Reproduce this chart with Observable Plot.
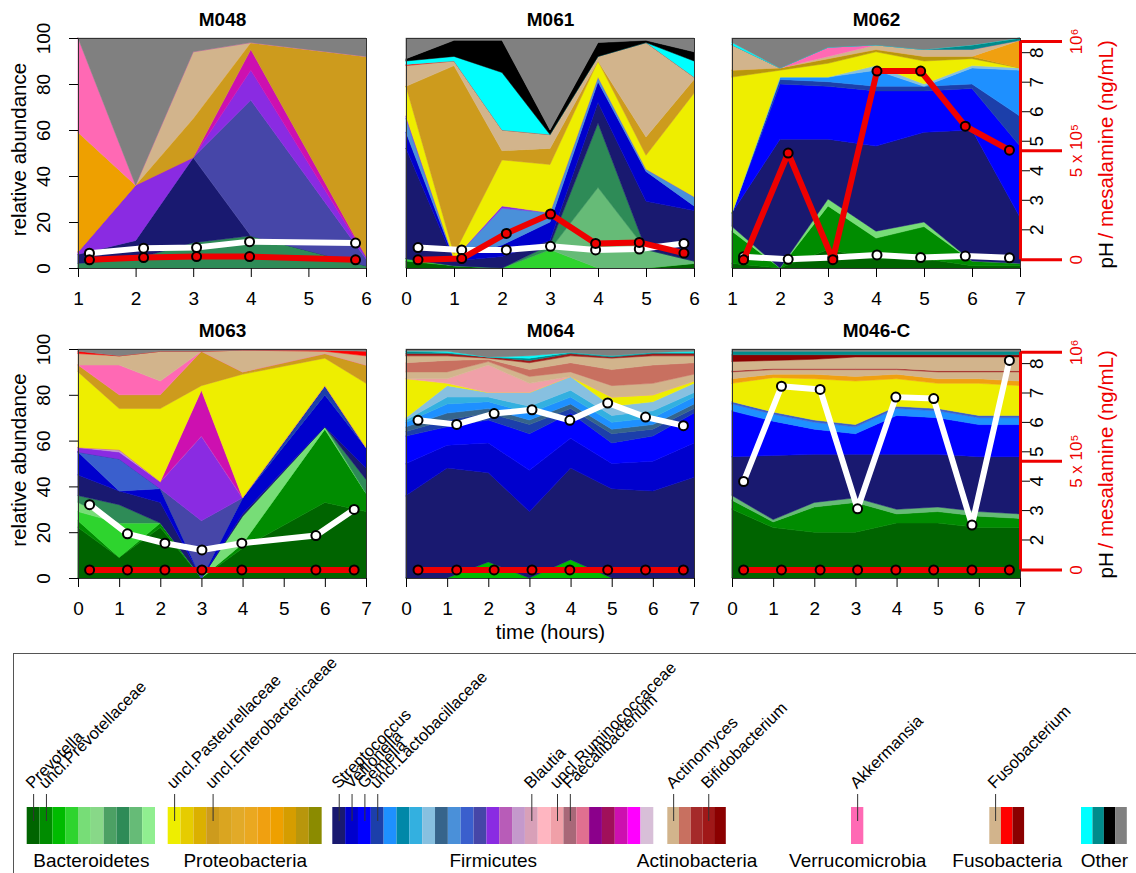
<!DOCTYPE html>
<html><head><meta charset="utf-8">
<script src="https://cdn.jsdelivr.net/npm/d3@7"></script>
<script src="https://cdn.jsdelivr.net/npm/@observablehq/plot@0.6"></script>
<style>
html,body{margin:0;padding:0;background:#fff;overflow:hidden;}
#root{position:relative;width:1136px;height:873px;overflow:hidden;font-family:"Liberation Sans",Arial,sans-serif;}
.panel{position:absolute;}
.panel svg{background:transparent !important;overflow:visible;max-width:none !important;}
#legendBox{position:absolute;left:13px;top:653px;width:1200px;height:300px;border:1px solid #555;box-sizing:border-box;}
</style></head><body><div id="root"><div id="legendBox"></div></div>
<script>
// ---------- taxa / colours (legend order) ----------
const groupNames = ["Bacteroidetes","Proteobacteria","Firmicutes","Actinobacteria","Verrucomicrobia","Fusobacteria","Other"];
const groupPrefixes = ["B","P","F","A","V","U","O"];
const bacteroidetesColors = ["#006400","#008c00","#00bb00","#2ed42e","#77dd77","#88d888","#4ca064","#2e8b57","#66bb77","#90ee90"];
const proteobacteriaColors = ["#eeee00","#e6cc00","#dbb000","#cd9b1d","#daa520","#e2aa28","#eaa820","#f0a010","#eea000","#d59d00","#b8960c","#8b8b00"];
const firmicutesColors = ["#191970","#0000cd","#0000ff","#1c3faa","#1e90ff","#0088a8","#33b0e0","#87c0e0","#36648b","#4a90d9","#3a5fcd","#4646a8","#8a2be2","#b85cb8","#c499cc","#d8a0b8","#ffb6c1","#f0a0a8","#a86878","#e07090","#8b008b","#a0105a","#cd10b0","#ff00ff","#d8bfd8"];
const actinobacteriaColors = ["#d2b48c","#c87060","#a52a2a","#a01818","#8b0000"];
const verrucomicrobiaColors = ["#ff69b4"];
const fusobacteriaColors = ["#d2b48c","#ff0000","#8b0000"];
const otherColors = ["#00ffff","#008b8b","#000000","#808080"];
const groupColors = [bacteroidetesColors, proteobacteriaColors, firmicutesColors, actinobacteriaColors, verrucomicrobiaColors, fusobacteriaColors, otherColors];

const genusNames = ["Prevotella","uncl.Prevotellaceae","uncl.Pasteurellaceae","uncl.Enterobactericaeae","Streptococcus","Veillonella","Gemella","uncl.Lactobacillaceae","Blautia","uncl.Ruminococcaceae","Faecalibacterium","Actinomyces","Bifidobacterium","Akkermansia","Fusobacterium"];
const genusTaxa = ["B1","B2","P1","P4","F1","F2","F3","F4","F16","F18","F19","A1","A4","V1","U1"];

// ---------- axis ticks ----------
const abundanceTicks = [0,20,40,60,80,100];
const phTicks = [2,3,4,5,6,7,8];
const mesTicks = [0, 500000, 1000000];
const mesTickLabels = ["0", "5 x 10\u2075", "10\u2076"];

// ---------- M048 ----------
const m048Positions = [1,2,3,4,6];
const m048Times = [1.19, 2.13, 3.05, 3.97, 5.81];
const m048PH = [1.21, 1.38, 1.40, 1.60, 1.55];
const m048Mesalamine = [0, 10600, 15300, 15300, 0];
const m048Taxa = ["B8","F1","F12","F13","F23","P4","P9","A1","V1","O4"];
const m048Abundance = [
  [2, 4, 11, 14, 1],
  [4, 8, 37, 0, 0],
  [0, 0, 0, 59, 3],
  [1, 24, 0, 13, 1],
  [0, 0, 0, 9, 0],
  [0, 0, 17, 3, 87],
  [52, 0, 0, 0, 0],
  [0, 0, 29, 0, 0],
  [41, 0, 0, 0, 0],
  [0, 64, 6, 2, 8]
];

// ---------- M061 ----------
const m061Positions = [0,1,2,3,4,5,6];
const m061Times = [0.24, 1.15, 2.08, 3.0, 3.94, 4.85, 5.78];
const m061PH = [1.40, 1.32, 1.32, 1.44, 1.32, 1.35, 1.54];
const m061Mesalamine = [0, 6000, 121000, 210000, 75000, 80000, 31000];
const m061Taxa = ["B1","B4","B9","B8","F1","F2","F10","F13","P1","P4","A1","U2","O1","O3","O4"];
const m061Abundance = [
  [3, 1, 0, 0, 0, 0, 2],
  [1, 0, 0, 8, 0, 0, 0],
  [0, 0, 0, 0, 35, 8, 1],
  [0, 0, 0, 2, 28, 0, 0],
  [48, 2, 5, 2, 9, 21, 22],
  [7, 1, 5, 8, 9, 13, 2],
  [6, 0, 16, 4, 2, 1, 4],
  [1, 0, 1, 0, 0, 0, 0],
  [13, 2, 20, 21, 7, 6, 45],
  [0, 82, 4, 7, 0, 8, 6],
  [9, 2, 9, 6, 2, 41, 1],
  [0.5, 0, 0, 0, 0, 0, 0],
  [1.5, 2, 25, 0, 0, 0, 7],
  [1, 7, 14, 2, 6, 1, 4],
  [9, 1, 1, 40, 2, 1, 6]
];

// ---------- M062 ----------
const m062Positions = [1,2,3,4,5,6,7];
const m062Times = [1.23, 2.16, 3.09, 4.01, 4.92, 5.85, 6.77];
const m062PH = [1.09, 1.0, 1.06, 1.15, 1.06, 1.11, 1.05];
const m062Mesalamine = [0, 489000, 1000, 864000, 864000, 612000, 502000];
const m062Taxa = ["B1","B2","B5","F1","F3","F4","F5","F8","P1","P11","P8","A1","V1","O2","O1","O4"];
const m062Abundance = [
  [2, 0, 8, 4, 4, 1, 1],
  [14, 0, 19, 9, 14, 2, 1],
  [2, 0, 3, 3, 2, 0, 0],
  [6, 56, 26, 37, 39, 57, 20],
  [0, 24, 23, 24, 18, 18, 31],
  [0, 2, 2, 2, 2, 2, 13],
  [0, 1, 2, 7, 0, 7, 20],
  [0, 0, 0, 2, 1, 1, 1],
  [59, 3, 6, 6, 10, 3, 0],
  [3, 1, 2, 1, 2, 1, 0],
  [0, 0, 0, 0, 0, 0, 12],
  [11, 0, 1, 2, 3, 3, 0],
  [0, 0, 4, 0, 0, 0, 0],
  [0, 0, 0, 0, 0, 2, 1],
  [1, 0, 0, 0, 0, 0, 0],
  [2, 13, 4, 3, 5, 3, 0]
];

// ---------- M063 ----------
const m063Positions = [0,1,2,3,4,6,7];
const m063Times = [0.27, 1.19, 2.1, 3.0, 3.97, 5.77, 6.70];
const m063PH = [3.20, 2.21, 1.89, 1.66, 1.89, 2.15, 3.04];
const m063Mesalamine = [0, 0, 0, 0, 0, 0, 0];
const m063Taxa = ["B1","B2","B4","B5","B8","F1","F2","F11","F4","F12","F13","F15","F23","P1","P4","V1","U1","U2","O4"];
const m063Abundance = [
  [22, 9, 22, 0, 13, 33, 29],
  [3, 0, 2, 0, 2, 32, 8],
  [4, 15, 0, 0, 0, 0, 0],
  [4, 0, 0, 0, 12, 1, 0],
  [3, 8, 0, 0, 0, 0, 6],
  [9, 6, 9, 0, 1, 0, 5],
  [10, 0, 6, 0, 7, 14, 9],
  [0, 14, 0, 0, 0, 0, 0],
  [0, 0, 0, 0, 0, 4, 0],
  [0, 0, 0, 25, 0, 0, 0],
  [2, 3, 3, 37, 0, 0, 0],
  [0, 1, 0, 0, 0, 0, 0],
  [0, 0, 0, 20, 0, 0, 0],
  [33, 18, 32, 2, 54, 12, 28],
  [3, 6, 6, 15, 1, 2, 8],
  [0, 13, 6, 0, 0, 0, 0],
  [5, 4, 13, 0, 9.5, 1, 4],
  [1, 0, 0, 0, 0, 0.5, 2],
  [1, 3, 1, 1, 0.5, 0.5, 1]
];

// ---------- M064 ----------
const m064Positions = [0,1,2,3,4,5,6,7];
const m064Times = [0.28, 1.22, 2.13, 3.05, 3.97, 4.89, 5.81, 6.73];
const m064PH = [6.07, 5.93, 6.30, 6.43, 6.07, 6.66, 6.18, 5.89];
const m064Mesalamine = [0, 0, 0, 0, 0, 0, 0, 0];
const m064Taxa = ["B3","F1","F2","F3","F4","F9","F5","F7","F8","P1","F18","A1","A2","U1","A4","O2","O1","O4"];
const m064Abundance = [
  [0, 0, 7, 0, 8, 0, 0, 0],
  [36, 48, 39, 29, 40, 39, 38, 44],
  [14, 10, 13, 18, 13, 11, 13, 15],
  [12, 8, 10, 16, 11, 9, 11, 13],
  [2, 3, 3, 4, 2, 4, 3, 2],
  [2, 3, 2, 2, 2, 2, 2, 2],
  [2, 4, 3, 3, 3, 3, 3, 3],
  [1, 3, 2, 3, 3, 3, 3, 2],
  [1, 5, 2, 6, 6, 4, 4, 4],
  [17, 1, 0, 0, 0, 4, 3, 1],
  [0, 2, 12, 4, 0, 0, 0, 0],
  [3, 3, 1.5, 3, 2, 5, 5, 3],
  [4, 5, 1, 3, 4, 7, 8, 5],
  [3, 2, 0.5, 3, 3, 5, 4, 3],
  [1, 1, 0.5, 1, 1, 0.5, 1, 1],
  [1, 0.5, 0, 1, 0.5, 0.5, 0.5, 0.5],
  [0, 0.5, 0, 1, 0, 0, 0, 0.5],
  [1, 1, 3.5, 3, 1.5, 3, 1.5, 1]
];

// ---------- M046-C ----------
const m046Positions = [0,1,2,3,4,5,6,7];
const m046Times = [0.27, 1.19, 2.13, 3.04, 3.97, 4.89, 5.82, 6.73];
const m046PH = [3.99, 7.23, 7.12, 3.06, 6.86, 6.81, 2.51, 8.11];
const m046Mesalamine = [0, 0, 0, 0, 0, 0, 0, 0];
const m046Taxa = ["B1","B2","B9","F1","F3","F5","F11","P1","P8","A1","A3","U1","U3","O2","O4"];
const m046Abundance = [
  [30, 22, 20, 20, 24, 24, 22, 22],
  [4, 2.5, 11, 13, 4, 5, 5, 4],
  [2, 1, 2, 2, 2, 2, 2, 2],
  [17, 28, 21, 19, 24, 23, 24, 25],
  [20, 15, 11, 9, 17, 16, 14, 14],
  [3, 3, 3, 3, 3, 3, 3, 3],
  [1, 1, 1, 1, 1, 1, 1, 1],
  [8, 15, 18, 19, 12, 11, 14, 13],
  [2, 1.5, 2, 2, 2, 2, 2, 2],
  [3, 2, 2, 3, 2, 3, 3, 4],
  [0.5, 0.5, 0.5, 0.5, 0.5, 0.5, 0.5, 0.5],
  [4, 3.5, 4, 5, 5, 6, 6, 6],
  [3, 2.5, 2, 1, 1, 1, 1, 1],
  [1.5, 1.5, 1.5, 1.5, 1.5, 1.5, 1.5, 1.5],
  [1, 1, 1, 1, 1, 1, 1, 1]
];

// ---------- secondary axes (pH and mesalamine mapped onto the abundance frame) ----------
const phScale = d3.scaleLinear([0.69, 8.48], [0, 100]);
const mesScale = d3.scaleLinear([-39500, 1013200], [0, 100]);

// ---------- colour scale ----------
const colorDomain = [], colorRange = [];
groupPrefixes.forEach((p, g) => groupColors[g].forEach((c, i) => { colorDomain.push(p + (i + 1)); colorRange.push(c); }));

const root = document.getElementById("root");
const FONT = "'Liberation Sans', Arial, sans-serif";
const RED = "#ee0000";

function addPanel(cfg) {
  const mL = 78, mR = 130, mT = 40, mB = 75;
  const W = 288, H = cfg.h;
  const rows = cfg.taxa.flatMap((t, i) => cfg.abundance[i].map((v, j) => ({x: cfg.positions[j], taxon: t, value: v})));
  const ph = cfg.times.map((t, i) => ({t, v: phScale(cfg.ph[i])}));
  const mes = cfg.times.map((t, i) => ({t, v: mesScale(cfg.mes[i])}));
  const xTicks = d3.range(cfg.xDomain[0], cfg.xDomain[1] + 1);
  const marks = [
    Plot.areaY(rows, {x: "x", y: "value", fill: "taxon", stroke: "taxon", strokeWidth: 0.5}),
    Plot.frame({stroke: "#333", strokeWidth: 1}),
    Plot.axisX(xTicks, {tickSize: 9, tickPadding: 14, fontSize: 19, label: null, tickFormat: d => d}),
    Plot.line(ph, {x: "t", y: "v", stroke: "white", strokeWidth: 6}),
    Plot.dot(ph, {x: "t", y: "v", r: 4.5, fill: "white", stroke: "black", strokeWidth: 2}),
    Plot.line(mes, {x: "t", y: "v", stroke: RED, strokeWidth: 6}),
    Plot.dot(mes, {x: "t", y: "v", r: 4.5, fill: RED, stroke: "black", strokeWidth: 2}),
    Plot.text([cfg.name], {text: d => d, frameAnchor: "top", lineAnchor: "middle", dy: -19, fontWeight: "bold", fontSize: 19})
  ];
  if (cfg.left) {
    marks.push(
      Plot.axisY(abundanceTicks, {anchor: "left", tickSize: 9, tickPadding: 20, tickRotate: -90, fontSize: 19, label: null, tickFormat: d => d}),
      Plot.text(["relative abundance"], {text: d => d, frameAnchor: "left", textAnchor: "middle", lineAnchor: "middle", dx: -59, dy: -4, rotate: -90, fontSize: 20.5})
    );
  }
  if (cfg.right) {
    marks.push(
      Plot.axisY(phTicks.map(phScale), {anchor: "right", tickSize: 9, tickPadding: 13, tickRotate: -90, fontSize: 19, label: null, tickFormat: (d, i) => phTicks[i]}),
      Plot.axisY(mesTicks.map(mesScale), {anchor: "right", tickSize: 41, strokeWidth: 3, color: RED, tickPadding: 20, tickRotate: -90, fontSize: 17, label: null, tickFormat: (d, i) => mesTickLabels[i]}),
      Plot.ruleX([cfg.xDomain[1]], {y1: mesScale(mesTicks[0]), y2: mesScale(mesTicks[2]), stroke: RED, strokeWidth: 3}),
      Plot.text(["pH"], {text: d => d, frameAnchor: "bottom-right", lineAnchor: "middle", dx: 86, rotate: -90, textAnchor: "start", fontSize: 20.5, fill: "black"}),
      Plot.text(["/ mesalamine (ng/mL)"], {text: d => d, frameAnchor: "bottom-right", lineAnchor: "middle", dx: 86, dy: -30, rotate: -90, textAnchor: "start", fontSize: 20.5, fill: RED})
    );
  }
  if (cfg.xLabel) {
    marks.push(Plot.text(["time (hours)"], {text: d => d, frameAnchor: "bottom", lineAnchor: "middle", dy: 54, fontSize: 20.5}));
  }
  const svg = Plot.plot({
    width: mL + W + mR, height: mT + H + mB,
    marginLeft: mL, marginRight: mR, marginTop: mT, marginBottom: mB,
    x: {domain: cfg.xDomain, axis: null, label: null},
    y: {domain: [0, 100], axis: null, label: null},
    color: {domain: colorDomain, range: colorRange},
    style: {fontFamily: FONT, background: "transparent", overflow: "visible", color: "black"},
    marks
  });
  const div = document.createElement("div");
  div.className = "panel";
  div.style.left = (cfg.left0 - mL) + "px";
  div.style.top = (cfg.top0 - mT) + "px";
  div.style.width = (mL + W + mR) + "px";
  div.appendChild(svg);
  root.appendChild(div);
}

addPanel({name: "M048", left0: 78, top0: 38, h: 230, xDomain: [1, 6], positions: m048Positions, times: m048Times, ph: m048PH, mes: m048Mesalamine, taxa: m048Taxa, abundance: m048Abundance, left: true});
addPanel({name: "M061", left0: 405.5, top0: 38, h: 230, xDomain: [0, 6], positions: m061Positions, times: m061Times, ph: m061PH, mes: m061Mesalamine, taxa: m061Taxa, abundance: m061Abundance});
addPanel({name: "M062", left0: 731.5, top0: 38, h: 230, xDomain: [1, 7], positions: m062Positions, times: m062Times, ph: m062PH, mes: m062Mesalamine, taxa: m062Taxa, abundance: m062Abundance, right: true});
addPanel({name: "M063", left0: 78, top0: 349, h: 229, xDomain: [0, 7], positions: m063Positions, times: m063Times, ph: m063PH, mes: m063Mesalamine, taxa: m063Taxa, abundance: m063Abundance, left: true});
addPanel({name: "M064", left0: 405.5, top0: 349, h: 229, xDomain: [0, 7], positions: m064Positions, times: m064Times, ph: m064PH, mes: m064Mesalamine, taxa: m064Taxa, abundance: m064Abundance, xLabel: true});
addPanel({name: "M046-C", left0: 731.5, top0: 349, h: 229, xDomain: [0, 7], positions: m046Positions, times: m046Times, ph: m046PH, mes: m046Mesalamine, taxa: m046Taxa, abundance: m046Abundance, right: true});

// ---------- legend ----------
const groupStartX = [26.7, 167.7, 332.3, 667.3, 851, 989.3, 1081];
const swatchWidth = [12.83, 12.83, 12.84, 11.7, 12.3, 11.6, 11.45];
const swatches = [];
groupPrefixes.forEach((p, g) => groupColors[g].forEach((c, i) => swatches.push({
  id: p + (i + 1), x1: groupStartX[g] + i * swatchWidth[g], x2: groupStartX[g] + (i + 1) * swatchWidth[g]
})));
const swatchById = new Map(swatches.map(s => [s.id, s]));
const genusRows = genusNames.map((name, i) => { const s = swatchById.get(genusTaxa[i]); return {name, cx: (s.x1 + s.x2) / 2}; });
const groupRows = groupNames.map((name, g) => ({name, cx: groupStartX[g] + groupColors[g].length * swatchWidth[g] / 2}));

const LTOP = 653;
const legend = Plot.plot({
  width: 1136, height: 220, margin: 0,
  x: {domain: [0, 1136], range: [0, 1136], axis: null},
  y: {domain: [0, 220], range: [0, 220], axis: null},
  color: {domain: colorDomain, range: colorRange},
  style: {fontFamily: FONT, background: "transparent", overflow: "visible", color: "black"},
  marks: [
    Plot.rect(swatches, {x1: "x1", x2: "x2", y1: 807 - LTOP, y2: 844 - LTOP, fill: "id"}),
    Plot.ruleX(genusRows, {x: "cx", y1: 794 - LTOP, y2: 821 - LTOP, stroke: "#333", strokeWidth: 1}),
    Plot.text(genusRows, {x: "cx", y: 789 - LTOP, text: "name", rotate: -45, textAnchor: "start", lineAnchor: "bottom", dx: -1, fontSize: 16.5}),
    Plot.text(groupRows, {x: "cx", y: 866 - LTOP, text: "name", lineAnchor: "bottom", fontSize: 19})
  ]
});
const ldiv = document.createElement("div");
ldiv.className = "panel";
ldiv.style.left = "0px";
ldiv.style.top = LTOP + "px";
ldiv.style.width = "1136px";
ldiv.appendChild(legend);
root.appendChild(ldiv);
</script></body></html>
